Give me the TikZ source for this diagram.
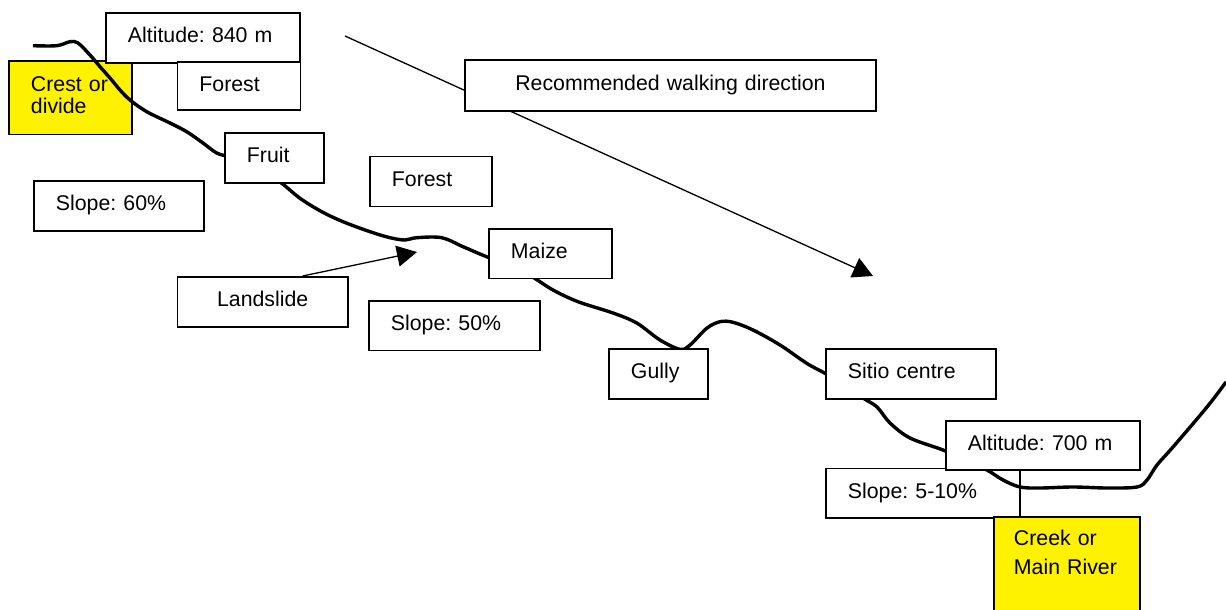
\documentclass[tikz,border=0pt]{standalone}
\usepackage{fontspec}
\setmainfont{Liberation Sans}
\usetikzlibrary{arrows.meta}
\frenchspacing

\begin{document}
\begin{tikzpicture}[x=1pt,y=-1pt,
  lbl/.style={draw,line width=1.9pt,fill=white,anchor=north west,align=left,
    inner xsep=22pt,inner ysep=0pt,minimum height=50pt,text height=16pt,text depth=6pt,
    font=\fontsize{21.3}{24.5}\selectfont},
  mark box/.style={lbl,fill=yellow},
  ground/.style={line width=3.4pt,line join=round},
  pointer/.style={line width=1.3pt,-{Triangle[length=20pt,width=21pt]}}]

\useasboundingbox (0,0) rectangle (1226,610);

\node[mark box,text width=79pt,minimum height=73.5pt,text depth=29.3pt] (crest) at (8,60) {Crest or\\[-1.8pt]divide};
\node[lbl,text width=150pt,minimum height=49.5pt] (slope510) at (825,467.5) {Slope: 5-10\%};

\draw[ground] plot[smooth,tension=0.55] coordinates {
  (33,45.7) (56.7,45.7) (70,41.7) (78,43) (90,55) (100,66.7) (111.7,80) (120,90)
  (130,100) (146.7,111.7) (170,123) (186.7,131.7) (203,143) (216.7,153) (230,157)
  (255,165) (281.7,183.3) (300,198.3) (321.7,211.7) (343,221.7) (370,231.7)
  (390,237.7) (405,240) (416.7,237.7) (441.7,237.7) (463,246.7) (488,257.3)
  (510,265) (533,277.3) (553,290) (578,301.7) (613,313) (636.7,323) (660,340)
  (680,349.3) (690,345) (706.7,328.3) (720,321.7) (733,322.3) (753,330) (780,345)
  (806.7,363.3) (825,373.3) (845,385) (863,398) (877,407) (890,423) (910,438)
  (943,450) (965,460) (987,470) (1003,480) (1020,487) (1040,488) (1073,487)
  (1107,488) (1137,487) (1147,480) (1157,465) (1173,447) (1207,407) (1226,382)};

\coordinate (walkstart) at (345,36);
\coordinate (walkend) at (873,276);
\draw[pointer] (walkstart) -- (walkend);

\node[lbl,text width=150pt] (alt840) at (105,12) {Altitude: 840 m};
\node[lbl,text width=79pt,minimum height=47.5pt] (foresttop) at (176.5,61.5) {Forest};
\node[lbl,text width=55pt] (fruit) at (224,132) {Fruit};
\node[lbl,text width=126pt] (slope60) at (33,180) {Slope: 60\%};
\node[lbl,text width=78pt] (forestmid) at (369,155.5) {Forest};
\node[lbl,text width=126.5pt,align=center] (landslide) at (176.5,276) {Landslide};
\node[lbl,text width=79pt,minimum height=49.5pt] (maize) at (488,228) {Maize};
\node[lbl,text width=127pt,minimum height=49.5pt] (slope50) at (368,300) {Slope: 50\%};
\node[lbl,text width=55pt] (gully) at (608,348) {Gully};
\node[lbl,text width=126pt] (sitio) at (825,348) {Sitio centre};
\node[lbl,text width=150pt,minimum height=49pt] (alt700) at (945,420) {Altitude: 700 m};
\node[mark box,inner xsep=20pt,text width=106pt,minimum height=122.6pt,text depth=80pt] (creek) at (993,515.7) {Creek or\\[3.8pt]Main River};
\node[lbl,text width=367pt,align=center,minimum height=50.5pt] (walk) at (464,59.5) {Recommended walking direction};

\coordinate (slidetip) at (417,252);
\draw[pointer] (landslide.33) -- (slidetip);

\end{tikzpicture}
\end{document}
